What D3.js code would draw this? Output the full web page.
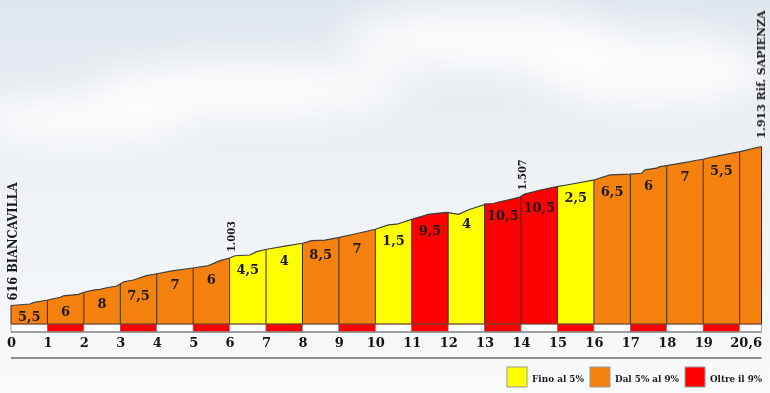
<!DOCTYPE html>
<html>
<head>
<meta charset="utf-8">
<script src="https://cdn.jsdelivr.net/npm/d3@7"></script>
<style>
  body { margin: 0; background: #fff; }
  svg { display: block; }
</style>
</head>
<body>
<svg width="770" height="393"></svg>
<script>
// profile (km, metres)
var profileKm = [0, 0.52, 0.61, 1.01, 1.35, 1.44, 1.85, 2.0, 2.26, 2.44, 2.63, 2.9, 3.1, 3.36, 3.72, 4.0,
  4.46, 5.0, 5.42, 5.74, 6.0, 6.15, 6.56, 6.74, 7.02, 7.52, 8.0, 8.25, 8.62, 8.98, 9.53, 10.0,
  10.36, 10.59, 11.0, 11.46, 11.69, 11.96, 12.28, 12.6, 12.96, 13.0, 13.24, 13.38, 13.6, 13.97, 14.0,
  14.1, 14.53, 14.98, 15.25, 15.98, 16.44, 16.99, 17.31, 17.4, 17.72, 17.81, 18.0, 18.64, 18.82, 19.0,
  19.1, 19.55, 20.01, 20.6]
var profileElev = [616, 628, 639, 661, 683, 694, 707, 724, 742, 748, 761, 775, 810, 824, 859, 875,
  900, 922, 941, 982, 1003, 1022, 1028, 1055, 1075, 1101, 1124, 1145, 1150, 1169, 1205, 1238,
  1273, 1279, 1319, 1360, 1368, 1375, 1359, 1401, 1436, 1444, 1448, 1460, 1473, 1500, 1507,
  1525, 1558, 1585, 1599, 1638, 1681, 1687, 1695, 1722, 1736, 1749, 1757, 1789, 1801, 1809,
  1817, 1844, 1871, 1913]

// one entry per km
var segGrades = ["5,5", "6", "8", "7,5", "7", "6", "4,5", "4", "8,5", "7", "1,5", "9,5", "4", "10,5", "10,5",
  "2,5", "6,5", "6", "7", "5,5", ""]
var segClass = ["mid", "mid", "mid", "mid", "mid", "mid", "low", "low", "mid", "mid", "low", "high", "low", "high", "high",
  "low", "mid", "mid", "mid", "mid", "mid"]

var kmTicks = [0, 1, 2, 3, 4, 5, 6, 7, 8, 9, 10, 11, 12, 13, 14, 15, 16, 17, 18, 19, 20.6]
var spotKm = [6, 14]
var spotLabels = ["1.003", "1.507"]
var startLabel = "616 BIANCAVILLA", endLabel = "1.913 Rif. SAPIENZA"
var legendLabels = ["Fino al 5%", "Dal 5% al 9%", "Oltre il 9%"]
var legendClass = ["low", "mid", "high"]

var totalKm = 20.6

var svg = d3.select("svg"),
  width = +svg.attr("width"),
  height = +svg.attr("height");

var fills = { low: "#ffff00", mid: "#f5820e", high: "#fe0000" }
var font = "'DejaVu Serif', serif"

var x = d3.scaleLinear().domain([0, totalKm]).range([11, 761.5])
var y = d3.scaleLinear().domain([465, 1913]).range([324, 146.5])
var elevAt = d3.scaleLinear().domain(profileKm).range(profileElev)
var baseY = y.range()[0]

// sky background
var defs = svg.append("defs")
var sky = defs.append("linearGradient").attr("id", "sky").attr("x1", 0).attr("y1", 0).attr("x2", 0).attr("y2", 1)
sky.append("stop").attr("offset", "0%").attr("stop-color", "#dfe6ec")
sky.append("stop").attr("offset", "45%").attr("stop-color", "#eef2f5")
sky.append("stop").attr("offset", "100%").attr("stop-color", "#f8fafb")
defs.append("filter").attr("id", "blur").attr("x", "-50%").attr("y", "-50%").attr("width", "200%").attr("height", "200%")
  .append("feGaussianBlur").attr("stdDeviation", 18)

svg.append("rect").attr("width", width).attr("height", height).attr("fill", "url(#sky)")
var clouds = [[480, 40, 140, 35], [650, 70, 120, 40], [250, 90, 160, 30], [80, 120, 110, 25]]
svg.append("g").attr("filter", "url(#blur)").selectAll("ellipse").data(clouds).enter().append("ellipse")
  .attr("cx", d => d[0]).attr("cy", d => d[1]).attr("rx", d => d[2]).attr("ry", d => d[3])
  .attr("fill", "#ffffff").attr("opacity", 0.8)

var profile = profileKm.map((k, i) => [k, profileElev[i]])
var area = d3.area().x(d => x(d[0])).y0(baseY).y1(d => y(d[1]))

var segs = segClass.map((c, i) => ({ a: i, b: Math.min(i + 1, totalKm), cls: c, grade: segGrades[i] }))

defs.selectAll("clipPath").data(segs).enter().append("clipPath")
  .attr("id", (d, i) => "seg" + i)
  .append("rect")
  .attr("x", d => x(d.a)).attr("width", d => x(d.b) - x(d.a))
  .attr("y", 0).attr("height", baseY)

// coloured km segments
svg.append("g").selectAll("path").data(segs).enter().append("path")
  .attr("clip-path", (d, i) => "url(#seg" + i + ")")
  .attr("d", area(profile))
  .attr("fill", d => fills[d.cls])

// km dividers
svg.append("g").selectAll("line").data(d3.range(0, 21).concat([totalKm])).enter().append("line")
  .attr("x1", d => x(d)).attr("x2", d => x(d))
  .attr("y1", baseY).attr("y2", d => y(elevAt(d)))
  .attr("stroke", "#3a2a12").attr("stroke-width", 1)

// top outline
svg.append("path")
  .attr("d", d3.line().x(d => x(d[0])).y(d => y(d[1]))(profile))
  .attr("fill", "none").attr("stroke", "#3d3d3d").attr("stroke-width", 1.2)

// red / white km strip
svg.append("g").selectAll("rect").data(segs).enter().append("rect")
  .attr("x", d => x(d.a)).attr("width", d => x(d.b) - x(d.a))
  .attr("y", baseY).attr("height", 8)
  .attr("fill", (d, i) => i % 2 ? "#fe0000" : "#ffffff")
  .attr("stroke", "#8a6a6a").attr("stroke-width", 0.6)
svg.append("line").attr("x1", x(0)).attr("x2", x(totalKm)).attr("y1", baseY).attr("y2", baseY)
  .attr("stroke", "#6a3a20").attr("stroke-width", 1)
svg.append("line").attr("x1", x(0)).attr("x2", x(totalKm)).attr("y1", baseY + 8).attr("y2", baseY + 8)
  .attr("stroke", "#8c8c8c").attr("stroke-width", 1.5)

// gradient labels
svg.append("g").selectAll("text").data(segs.filter(d => d.grade)).enter().append("text")
  .attr("x", d => (x(d.a) + x(d.b)) / 2)
  .attr("y", d => y(elevAt(d.a)) + 11)
  .attr("dy", "0.36em")
  .attr("text-anchor", "middle")
  .attr("font-family", font).attr("font-weight", "bold").attr("font-size", 13)
  .attr("fill", "#1a1a1a")
  .text(d => d.grade)

// km axis
var axis = svg.append("g").attr("transform", "translate(0," + (baseY + 9) + ")")
  .call(d3.axisBottom(x).tickValues(kmTicks).tickSize(0).tickPadding(5)
    .tickFormat(d => String(d).replace(".", ",")))
axis.select(".domain").remove()
axis.selectAll("text")
  .attr("font-family", font).attr("font-weight", "bold").attr("font-size", 13).attr("fill", "#151515")
  .attr("text-anchor", d => d === totalKm ? "end" : "middle")

// rotated elevation labels
function vlabel(tx, ty, txt, size, len) {
  svg.append("text")
    .attr("transform", "translate(" + tx + "," + ty + ") rotate(-90)")
    .attr("font-family", font).attr("font-weight", "bold").attr("font-size", size)
    .attr("fill", "#1a1a1a")
    .attr("textLength", len).attr("lengthAdjust", "spacingAndGlyphs")
    .text(txt)
}
vlabel(x(0) + 6, y(616) - 5, startLabel, 12, 118)
spotKm.forEach((k, i) => vlabel(x(k) + 5, y(elevAt(k)) - 6, spotLabels[i], 11.5, 31))
vlabel(x(totalKm) + 3.5, y(1913) - 8, endLabel, 11.5, 128)

// rule above the legend
svg.append("line").attr("x1", x(0)).attr("x2", x(totalKm)).attr("y1", 358).attr("y2", 358)
  .attr("stroke", "#8e8e8e").attr("stroke-width", 2)

// legend
var legendWidths = [52, 64, 52]
var lx = 507
var legend = svg.append("g")
legendLabels.forEach((lab, i) => {
  legend.append("rect").attr("x", lx).attr("y", 367).attr("width", 20).attr("height", 20)
    .attr("fill", fills[legendClass[i]]).attr("stroke", "#9a9a9a").attr("stroke-width", 1)
  legend.append("text").attr("x", lx + 25).attr("y", 381.5)
    .attr("font-family", font).attr("font-weight", "bold").attr("font-size", 9.5).attr("fill", "#1a1a1a")
    .attr("textLength", legendWidths[i]).attr("lengthAdjust", "spacingAndGlyphs")
    .text(lab)
  lx += 25 + legendWidths[i] + 6
})
</script>
</body>
</html>
